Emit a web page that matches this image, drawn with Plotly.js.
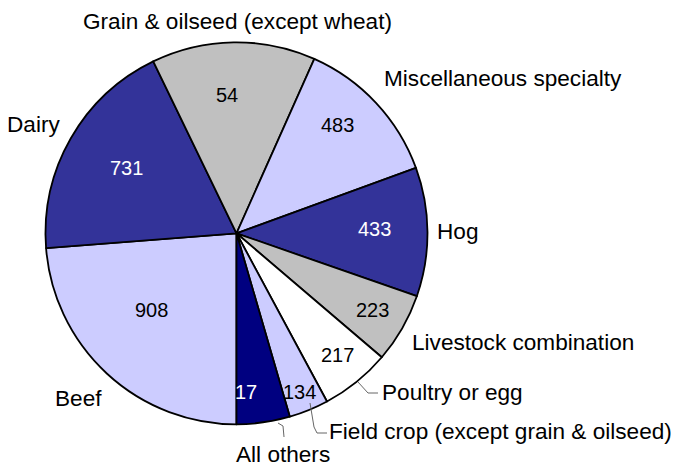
<!DOCTYPE html>
<html>
<head>
<meta charset="utf-8">
<script src="https://cdn.plot.ly/plotly-3.0.1.min.js"></script>
<style>html,body{margin:0;padding:0;background:#fff;}#chart{width:673px;height:466px;}</style>
</head>
<body>
<div id="chart"></div>
<script>
// Data (slice shares, clockwise from 6 o'clock)
var categories = ["Beef", "Dairy", "Grain & oilseed (except wheat)", "Miscellaneous specialty", "Hog",
  "Livestock combination", "Poultry or egg", "Field crop (except grain & oilseed)", "All others"];
var shares = [23.75, 19.05, 13.85, 12.75, 10.9, 5.9, 5.9, 3.35, 4.5];
var valueLabels = ["908", "731", "54", "483", "433", "223", "217", "134", "17"];

var colors = ["#CCCCFF", "#333399", "#C0C0C0", "#CCCCFF", "#333399", "#C0C0C0", "#FFFFFF", "#CCCCFF", "#000080"];
var numColors = ["#000000", "#FFFFFF", "#000000", "#000000", "#FFFFFF", "#000000", "#000000", "#000000", "#FFFFFF"];

var W = 673, H = 466;
function px(x) { return x / W; }
function py(y) { return 1 - y / H; }

// label placement (pixel positions)
var numPos = [[151, 309.5], [126.5, 167.5], [227, 95.5], [337.5, 124.5], [374, 228.5], [372.5, 309.5], [337.5, 354.5], [299.5, 391.5], [245.5, 391.5]];
var catPos = [[53, 398, "left"], [5, 124.5, "left"], [237.5, 22, "center"], [382, 79, "left"], [435, 231, "left"],
  [410, 342.5, "left"], [380, 392.5, "left"], [327, 431, "left"], [234, 454, "left"]];

var annotations = [];
for (var i = 0; i < categories.length; i++) {
  annotations.push({
    text: valueLabels[i], xref: "paper", yref: "paper",
    x: px(numPos[i][0]), y: py(numPos[i][1]), xanchor: "center", yanchor: "middle",
    showarrow: false, font: {family: "Liberation Sans, Arial, sans-serif", size: 20, color: numColors[i]}
  });
  annotations.push({
    text: categories[i], xref: "paper", yref: "paper",
    x: px(catPos[i][0]), y: py(catPos[i][1]), xanchor: catPos[i][2], yanchor: "middle",
    showarrow: false, font: {family: "Liberation Sans, Arial, sans-serif", size: 22.6, color: "#000000"}
  });
}

function pathFrom(pts) {
  return pts.map(function (p, k) { return (k ? "L" : "M") + px(p[0]) + "," + py(p[1]); }).join(" ");
}
var leaders = [
  [[358, 382], [368, 393], [378, 393]],
  [[310, 403], [314, 427], [317, 433], [327, 433]],
  [[278, 423], [283, 426], [284, 437]]
];
var shapes = leaders.map(function (pts) {
  return {type: "path", xref: "paper", yref: "paper", path: pathFrom(pts), line: {color: "#666666", width: 1}};
});

var cx = 236.5, cy = 233.3, r = 191;
var trace = {
  type: "pie",
  labels: categories,
  values: shares,
  sort: false,
  direction: "clockwise",
  rotation: 180,
  textinfo: "none",
  hoverinfo: "none",
  showlegend: false,
  marker: {colors: colors, line: {color: "#000000", width: 1.8}},
  domain: {x: [px(cx - r), px(cx + r)], y: [py(cy + r), py(cy - r)]}
};

var layout = {
  width: W, height: H,
  margin: {l: 0, r: 0, t: 0, b: 0},
  paper_bgcolor: "#FFFFFF",
  showlegend: false,
  annotations: annotations,
  shapes: shapes
};

Plotly.newPlot("chart", [trace], layout, {displayModeBar: false, staticPlot: true});
</script>
</body>
</html>
